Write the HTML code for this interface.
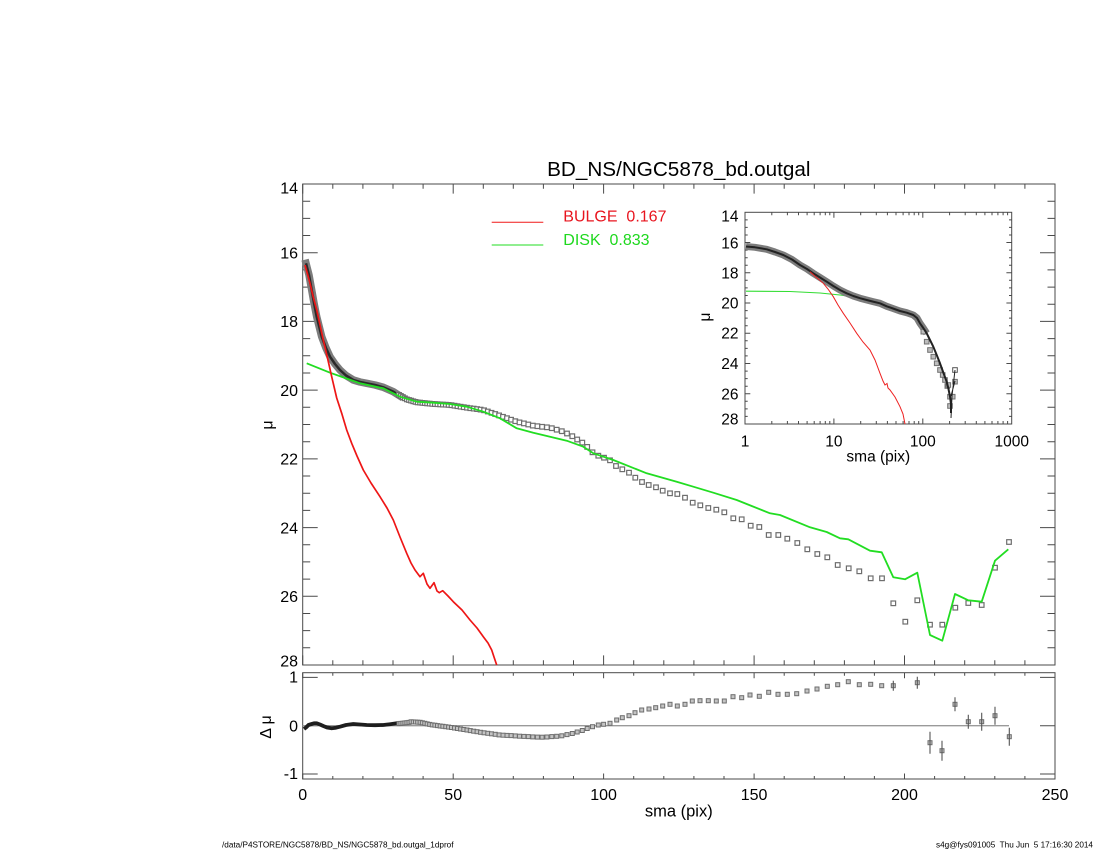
<!DOCTYPE html>
<html><head><meta charset="utf-8"><style>
html,body{margin:0;padding:0;background:#fff;}
svg{display:block;}
text{font-family:"Liberation Sans",Arial,sans-serif;}
</style></head><body>
<svg width="1100" height="850" viewBox="0 0 1100 850" xmlns="http://www.w3.org/2000/svg">
<rect width="1100" height="850" fill="#fff"/>

<!-- Title -->
<text x="678.8" y="176" font-size="20.7" text-anchor="middle">BD_NS/NGC5878_bd.outgal</text>

<!-- Main frame -->
<g stroke="#4a4a4a" stroke-width="1" fill="none">
<rect x="302.7" y="184" width="752.3" height="481"/>
<rect x="302.7" y="672.7" width="752.3" height="106.3"/>
<path d="M302.7 665V655.4M453.2 665V655.4M603.6 665V655.4M754.1 665V655.4M904.5 665V655.4M1055 665V655.4
M302.7 184V193.6M453.2 184V193.6M603.6 184V193.6M754.1 184V193.6M904.5 184V193.6M1055 184V193.6"/>
<path d="M332.8 665V660.2M362.9 665V660.2M393 665V660.2M423.1 665V660.2M483.3 665V660.2M513.3 665V660.2M543.4 665V660.2M573.5 665V660.2M633.7 665V660.2M663.8 665V660.2M693.9 665V660.2M724 665V660.2M784.2 665V660.2M814.3 665V660.2M844.4 665V660.2M874.4 665V660.2M934.6 665V660.2M964.7 665V660.2M994.8 665V660.2M1024.9 665V660.2
M332.8 184V188.8M362.9 184V188.8M393 184V188.8M423.1 184V188.8M483.3 184V188.8M513.3 184V188.8M543.4 184V188.8M573.5 184V188.8M633.7 184V188.8M663.8 184V188.8M693.9 184V188.8M724 184V188.8M784.2 184V188.8M814.3 184V188.8M844.4 184V188.8M874.4 184V188.8M934.6 184V188.8M964.7 184V188.8M994.8 184V188.8M1024.9 184V188.8"/>
<path d="M302.7 252.7H317.7M302.7 321.4H317.7M302.7 390.1H317.7M302.7 458.9H317.7M302.7 527.6H317.7M302.7 596.3H317.7
M1055 252.7H1040M1055 321.4H1040M1055 390.1H1040M1055 458.9H1040M1055 527.6H1040M1055 596.3H1040"/>
<path d="M302.7 201.2H310.2M302.7 218.4H310.2M302.7 235.5H310.2M302.7 269.9H310.2M302.7 287.1H310.2M302.7 304.2H310.2M302.7 338.6H310.2M302.7 355.8H310.2M302.7 373H310.2M302.7 407.3H310.2M302.7 424.5H310.2M302.7 441.7H310.2M302.7 476H310.2M302.7 493.2H310.2M302.7 510.4H310.2M302.7 544.7H310.2M302.7 561.9H310.2M302.7 579.1H310.2M302.7 613.5H310.2M302.7 630.6H310.2M302.7 647.8H310.2
M1055 201.2H1047.5M1055 218.4H1047.5M1055 235.5H1047.5M1055 269.9H1047.5M1055 287.1H1047.5M1055 304.2H1047.5M1055 338.6H1047.5M1055 355.8H1047.5M1055 373H1047.5M1055 407.3H1047.5M1055 424.5H1047.5M1055 441.7H1047.5M1055 476H1047.5M1055 493.2H1047.5M1055 510.4H1047.5M1055 544.7H1047.5M1055 561.9H1047.5M1055 579.1H1047.5M1055 613.5H1047.5M1055 630.6H1047.5M1055 647.8H1047.5"/>
<path d="M302.7 779V773.5M453.2 779V773.5M603.6 779V773.5M754.1 779V773.5M904.5 779V773.5M1055 779V773.5
M302.7 672.7V678.2M453.2 672.7V678.2M603.6 672.7V678.2M754.1 672.7V678.2M904.5 672.7V678.2M1055 672.7V678.2"/>
<path d="M332.8 779V776M362.9 779V776M393 779V776M423.1 779V776M483.3 779V776M513.3 779V776M543.4 779V776M573.5 779V776M633.7 779V776M663.8 779V776M693.9 779V776M724 779V776M784.2 779V776M814.3 779V776M844.4 779V776M874.4 779V776M934.6 779V776M964.7 779V776M994.8 779V776M1024.9 779V776
M332.8 672.7V675.7M362.9 672.7V675.7M393 672.7V675.7M423.1 672.7V675.7M483.3 672.7V675.7M513.3 672.7V675.7M543.4 672.7V675.7M573.5 672.7V675.7M633.7 672.7V675.7M663.8 672.7V675.7M693.9 672.7V675.7M724 672.7V675.7M784.2 672.7V675.7M814.3 672.7V675.7M844.4 672.7V675.7M874.4 672.7V675.7M934.6 672.7V675.7M964.7 672.7V675.7M994.8 672.7V675.7M1024.9 672.7V675.7"/>
<path d="M302.7 677.4H317.7M302.7 725.7H317.7M302.7 774H317.7M1055 677.4H1040M1055 725.7H1040M1055 774H1040"/>
</g>

<!-- Main tick labels -->
<g font-size="16" fill="#000" text-anchor="end">
<text x="298" y="193.5">14</text>
<text x="298" y="258.4">16</text>
<text x="298" y="327.1">18</text>
<text x="298" y="395.8">20</text>
<text x="298" y="464.6">22</text>
<text x="298" y="533.3">24</text>
<text x="298" y="602">26</text>
<text x="298" y="666.5">28</text>
<text x="298" y="682.7">1</text>
<text x="298" y="731.5">0</text>
<text x="298" y="779">-1</text>
</g>
<g font-size="16" fill="#000" text-anchor="middle">
<text x="302.7" y="800">0</text>
<text x="453.2" y="800">50</text>
<text x="603.6" y="800">100</text>
<text x="754.1" y="800">150</text>
<text x="904.5" y="800">200</text>
<text x="1055" y="800">250</text>
<text x="678.8" y="816.5" font-size="16.5">sma (pix)</text>
</g>
<text x="0" y="0" font-size="16" text-anchor="middle" transform="translate(272.5 425) rotate(-90)">μ</text>
<text x="0" y="0" font-size="16" text-anchor="middle" transform="translate(271 727) rotate(-90)">Δ μ</text>

<!-- Legend -->
<line x1="491.7" y1="222.3" x2="543.3" y2="222.3" stroke="#f01818" stroke-width="1"/>
<line x1="491.7" y1="245" x2="543.3" y2="245" stroke="#22dd22" stroke-width="1"/>
<text x="563.3" y="221.7" font-size="16" fill="#e8141e" xml:space="preserve">BULGE  0.167</text>
<text x="563.3" y="245" font-size="16" fill="#1ed81e" xml:space="preserve">DISK  0.833</text>

<!-- Main observed band -->
<path d="M306 263.3L309 275L311.7 290L314 303L316.7 316.7L321.7 336.7L326 348L330 356.7L335 364L340 370L346 375.5L353.3 380L360 382L366.7 383.3L375 385L383.3 387.3L393.3 391.7L400 396" fill="none" stroke="#7c7c7c" stroke-width="7.5" stroke-linejoin="round" stroke-linecap="square"/>
<path d="M306 263.3L309 275L311.7 290L314 303L316.7 316.7L321.7 336.7L326 348L330 356.7L335 364L340 370L346 375.5L353.3 380L360 382L366.7 383.3L375 385L383.3 387.3L393.3 391.7L400 396" fill="none" stroke="#2a2a2a" stroke-width="2.5" stroke-linejoin="round"/>

<!-- Main squares -->
<g fill="#fff" stroke="#6e6e6e" stroke-width="1.2" transform="translate(-2.3 -2.3)">
<rect x="399" y="394.9" width="4.6" height="4.6"/><rect x="400.9" y="396" width="4.6" height="4.6"/><rect x="402.9" y="397.1" width="4.6" height="4.6"/><rect x="404.9" y="398.3" width="4.6" height="4.6"/><rect x="406.9" y="399.4" width="4.6" height="4.6"/><rect x="409" y="400" width="4.6" height="4.6"/><rect x="411.1" y="400.6" width="4.6" height="4.6"/><rect x="413.3" y="401.3" width="4.6" height="4.6"/><rect x="415.5" y="401.9" width="4.6" height="4.6"/><rect x="417.7" y="402.4" width="4.6" height="4.6"/><rect x="420.1" y="402.6" width="4.6" height="4.6"/><rect x="422.4" y="402.9" width="4.6" height="4.6"/><rect x="424.8" y="403.1" width="4.6" height="4.6"/><rect x="427.2" y="403.4" width="4.6" height="4.6"/><rect x="429.7" y="403.6" width="4.6" height="4.6"/><rect x="432.3" y="403.9" width="4.6" height="4.6"/><rect x="434.9" y="404.1" width="4.6" height="4.6"/><rect x="437.5" y="404.2" width="4.6" height="4.6"/><rect x="440.2" y="404.4" width="4.6" height="4.6"/><rect x="442.9" y="404.6" width="4.6" height="4.6"/><rect x="445.8" y="404.7" width="4.6" height="4.6"/><rect x="448.6" y="404.9" width="4.6" height="4.6"/><rect x="451.5" y="405.2" width="4.6" height="4.6"/><rect x="454.5" y="405.7" width="4.6" height="4.6"/><rect x="457.5" y="406.2" width="4.6" height="4.6"/><rect x="460.6" y="406.7" width="4.6" height="4.6"/><rect x="463.8" y="407.2" width="4.6" height="4.6"/><rect x="467" y="407.7" width="4.6" height="4.6"/><rect x="470.3" y="408.2" width="4.6" height="4.6"/><rect x="473.7" y="408.6" width="4.6" height="4.6"/><rect x="477.1" y="409.1" width="4.6" height="4.6"/><rect x="480.6" y="409.6" width="4.6" height="4.6"/><rect x="484.1" y="410.3" width="4.6" height="4.6"/><rect x="487.8" y="411.5" width="4.6" height="4.6"/><rect x="491.5" y="412.8" width="4.6" height="4.6"/><rect x="495.2" y="414" width="4.6" height="4.6"/><rect x="499.1" y="415.4" width="4.6" height="4.6"/><rect x="503" y="416.8" width="4.6" height="4.6"/><rect x="507" y="418.2" width="4.6" height="4.6"/><rect x="511.1" y="419.7" width="4.6" height="4.6"/><rect x="515.3" y="421.2" width="4.6" height="4.6"/><rect x="519.5" y="422.4" width="4.6" height="4.6"/><rect x="523.9" y="423.4" width="4.6" height="4.6"/><rect x="528.3" y="424.5" width="4.6" height="4.6"/><rect x="532.8" y="425.6" width="4.6" height="4.6"/><rect x="537.4" y="426.2" width="4.6" height="4.6"/><rect x="542.1" y="426.8" width="4.6" height="4.6"/><rect x="546.9" y="427.3" width="4.6" height="4.6"/><rect x="551.8" y="428.2" width="4.6" height="4.6"/><rect x="556.7" y="429.7" width="4.6" height="4.6"/><rect x="561.8" y="431.2" width="4.6" height="4.6"/><rect x="567" y="433.5" width="4.6" height="4.6"/><rect x="572.3" y="436.2" width="4.6" height="4.6"/><rect x="577.2" y="439.5" width="4.6" height="4.6"/>
<rect x="582.3" y="442.6" width="4.6" height="4.6"/><rect x="587.2" y="446.9" width="4.6" height="4.6"/><rect x="592.5" y="452.3" width="4.6" height="4.6"/><rect x="598.3" y="455.7" width="4.6" height="4.6"/><rect x="604" y="457.7" width="4.6" height="4.6"/><rect x="610" y="460.3" width="4.6" height="4.6"/><rect x="616" y="466" width="4.6" height="4.6"/><rect x="622.3" y="469.3" width="4.6" height="4.6"/><rect x="629" y="472.7" width="4.6" height="4.6"/><rect x="635.3" y="477.7" width="4.6" height="4.6"/><rect x="642" y="482" width="4.6" height="4.6"/><rect x="648.7" y="485" width="4.6" height="4.6"/><rect x="656" y="487.3" width="4.6" height="4.6"/><rect x="662.7" y="490.7" width="4.6" height="4.6"/><rect x="670" y="493.3" width="4.6" height="4.6"/><rect x="677.3" y="494" width="4.6" height="4.6"/><rect x="685" y="497.7" width="4.6" height="4.6"/><rect x="692.7" y="502.7" width="4.6" height="4.6"/><rect x="700.3" y="505.3" width="4.6" height="4.6"/><rect x="708.3" y="508" width="4.6" height="4.6"/><rect x="716.3" y="509.7" width="4.6" height="4.6"/><rect x="724.3" y="512.3" width="4.6" height="4.6"/><rect x="733.3" y="518.3" width="4.6" height="4.6"/><rect x="741.7" y="519.3" width="4.6" height="4.6"/><rect x="750.7" y="525.7" width="4.6" height="4.6"/><rect x="759.3" y="527" width="4.6" height="4.6"/><rect x="768.7" y="535" width="4.6" height="4.6"/><rect x="778.3" y="535" width="4.6" height="4.6"/><rect x="787.3" y="538.7" width="4.6" height="4.6"/><rect x="797.3" y="543" width="4.6" height="4.6"/><rect x="807.3" y="549.3" width="4.6" height="4.6"/><rect x="817.3" y="554" width="4.6" height="4.6"/><rect x="827.3" y="557.3" width="4.6" height="4.6"/><rect x="837.7" y="565" width="4.6" height="4.6"/><rect x="848.7" y="568.3" width="4.6" height="4.6"/><rect x="859.3" y="571.3" width="4.6" height="4.6"/><rect x="870.7" y="578.3" width="4.6" height="4.6"/><rect x="882" y="578.3" width="4.6" height="4.6"/><rect x="893.3" y="603.3" width="4.6" height="4.6"/><rect x="905.3" y="621.7" width="4.6" height="4.6"/><rect x="917.3" y="600.3" width="4.6" height="4.6"/><rect x="930" y="624.7" width="4.6" height="4.6"/><rect x="942.3" y="624.7" width="4.6" height="4.6"/><rect x="955.3" y="607.7" width="4.6" height="4.6"/><rect x="968.3" y="603" width="4.6" height="4.6"/><rect x="981.7" y="605" width="4.6" height="4.6"/><rect x="995" y="567.7" width="4.6" height="4.6"/><rect x="1009" y="542" width="4.6" height="4.6"/>
</g>

<!-- Disk (green) main -->
<path d="M306.7 363.3L330 372.7L345 378L360 383.3L383.3 388.3L400 396.7L416.7 401.7L433.3 402.7L450 404L466.7 406.7L483.3 411.7L500 418.3L516.7 428.3L533.3 432.7L550 436.7L566.7 440.7L583.3 446.7L593.3 453.3L613.3 460L646.7 473.3L676.7 481.7L693.3 486.7L713.3 492.7L736.7 500L751.7 506L770 513.3L780 515L810 527.3L826.7 532L840 538.3L848.3 539.3L870 550.7L881.7 552.3L893.3 577.3L905 579.3L917.3 572.7L930 635L942.3 640.7L955 594L968.3 600.3L981.7 601.7L995 560.7L1008.3 549.3" fill="none" stroke="#22dd22" stroke-width="1.8" stroke-linejoin="round"/>

<!-- Bulge (red) main -->
<path d="M305 265L307.5 274L310 283.3L313 296L316.7 310L320 325L323.3 340L327.5 358L331.7 376.7L336.7 398L341.7 413.3L346.7 430L351.7 443.3L357 456L363.3 470L371 483L380 496.7L387 508L393.3 520L400 537L406.7 553.3L411 563L415 570L420 576.7L423.3 573.3L427 584L430 588.3L434 582.7L437 591L439.3 592.7L442.7 590.7L448 596L453.3 601.7L462 610L470 620L477 628L483.3 636.7L488 643L491.7 650L494 657L496.7 665" fill="none" stroke="#ee1616" stroke-width="1.7" stroke-linejoin="round"/>

<!-- Residual zero line -->
<line x1="302.7" y1="725.7" x2="1009" y2="725.7" stroke="#9a9a9a" stroke-width="1.3"/>
<path d="M304 729L306 727.5L308.5 725L311.7 724L314 723.3L316.7 723.3L320 724.5L323.3 726L327 727.5L331.7 728.3L336 727.7L340 726.7L346 725L353.3 724L360 724.5L366.7 725L375 725.2L383.3 725L390 724.2L396.7 723.3L400 723.4" fill="none" stroke="#1e1e1e" stroke-width="3.8" stroke-linejoin="round"/>
<g fill="#c4c4c4" stroke="#6e6e6e" stroke-width="1" transform="translate(-2 -2)">
<rect x="399" y="723.6" width="4" height="4"/><rect x="400.9" y="723.4" width="4" height="4"/><rect x="402.9" y="723.2" width="4" height="4"/><rect x="404.9" y="722.9" width="4" height="4"/><rect x="406.9" y="722.7" width="4" height="4"/><rect x="409" y="722.4" width="4" height="4"/><rect x="411.1" y="721.8" width="4" height="4"/><rect x="413.3" y="721.9" width="4" height="4"/><rect x="415.5" y="722" width="4" height="4"/><rect x="417.7" y="722.2" width="4" height="4"/><rect x="420.1" y="722.3" width="4" height="4"/><rect x="422.4" y="722.8" width="4" height="4"/><rect x="424.8" y="723.3" width="4" height="4"/><rect x="427.2" y="723.9" width="4" height="4"/><rect x="429.7" y="724.4" width="4" height="4"/><rect x="432.3" y="724.9" width="4" height="4"/><rect x="434.9" y="725.2" width="4" height="4"/><rect x="437.5" y="725.6" width="4" height="4"/><rect x="440.2" y="726" width="4" height="4"/><rect x="442.9" y="726.3" width="4" height="4"/><rect x="445.8" y="726.7" width="4" height="4"/><rect x="448.6" y="727.1" width="4" height="4"/><rect x="451.5" y="727.5" width="4" height="4"/><rect x="454.5" y="728" width="4" height="4"/><rect x="457.5" y="728.5" width="4" height="4"/><rect x="460.6" y="729" width="4" height="4"/><rect x="463.8" y="729.5" width="4" height="4"/><rect x="467" y="730" width="4" height="4"/><rect x="470.3" y="730.6" width="4" height="4"/><rect x="473.7" y="731.2" width="4" height="4"/><rect x="477.1" y="731.7" width="4" height="4"/><rect x="480.6" y="732.3" width="4" height="4"/><rect x="484.1" y="732.8" width="4" height="4"/><rect x="487.8" y="733.3" width="4" height="4"/><rect x="491.5" y="733.8" width="4" height="4"/><rect x="495.2" y="734.3" width="4" height="4"/><rect x="499.1" y="734.9" width="4" height="4"/><rect x="503" y="735.2" width="4" height="4"/><rect x="507" y="735.4" width="4" height="4"/><rect x="511.1" y="735.6" width="4" height="4"/><rect x="515.3" y="735.9" width="4" height="4"/><rect x="519.5" y="736.2" width="4" height="4"/><rect x="523.9" y="736.4" width="4" height="4"/><rect x="528.3" y="736.6" width="4" height="4"/><rect x="532.8" y="736.9" width="4" height="4"/><rect x="537.4" y="737.1" width="4" height="4"/><rect x="542.1" y="737.2" width="4" height="4"/><rect x="546.9" y="737" width="4" height="4"/><rect x="551.8" y="736.6" width="4" height="4"/><rect x="556.7" y="736.3" width="4" height="4"/><rect x="561.8" y="735.8" width="4" height="4"/><rect x="567" y="734.6" width="4" height="4"/><rect x="572.3" y="733.5" width="4" height="4"/><rect x="577.2" y="732" width="4" height="4"/>
<rect x="582.3" y="730.5" width="4" height="4"/><rect x="587.2" y="728.5" width="4" height="4"/><rect x="592.5" y="726.7" width="4" height="4"/><rect x="598.3" y="725" width="4" height="4"/>
<rect x="603.6" y="724.3" width="4" height="4"/><rect x="610" y="723.3" width="4" height="4"/><rect x="616.7" y="720" width="4" height="4"/><rect x="622.3" y="717.7" width="4" height="4"/><rect x="629" y="715.7" width="4" height="4"/><rect x="635" y="712.7" width="4" height="4"/><rect x="641.7" y="710" width="4" height="4"/><rect x="649" y="709" width="4" height="4"/><rect x="655.7" y="707.7" width="4" height="4"/><rect x="662.7" y="706" width="4" height="4"/><rect x="670" y="704.3" width="4" height="4"/><rect x="677.3" y="706" width="4" height="4"/><rect x="685" y="704.3" width="4" height="4"/><rect x="692.3" y="701" width="4" height="4"/><rect x="700" y="700.7" width="4" height="4"/><rect x="708.3" y="700.7" width="4" height="4"/><rect x="716.3" y="701" width="4" height="4"/><rect x="724.3" y="701" width="4" height="4"/><rect x="733" y="696.7" width="4" height="4"/><rect x="741.7" y="697.7" width="4" height="4"/><rect x="750" y="695" width="4" height="4"/><rect x="759.3" y="696.3" width="4" height="4"/><rect x="768.7" y="692.3" width="4" height="4"/><rect x="778" y="694.3" width="4" height="4"/><rect x="787.3" y="694.3" width="4" height="4"/><rect x="796.7" y="693.7" width="4" height="4"/><rect x="807" y="691" width="4" height="4"/><rect x="817" y="689" width="4" height="4"/><rect x="827.3" y="686.3" width="4" height="4"/><rect x="837.7" y="684.7" width="4" height="4"/><rect x="848.3" y="681.7" width="4" height="4"/><rect x="859.3" y="684.7" width="4" height="4"/><rect x="870.7" y="684.3" width="4" height="4"/><rect x="881.7" y="685.7" width="4" height="4"/><rect x="893.3" y="685.7" width="4" height="4"/><rect x="917.3" y="682.7" width="4" height="4"/><rect x="930" y="742.7" width="4" height="4"/><rect x="942" y="750.7" width="4" height="4"/><rect x="955" y="704.3" width="4" height="4"/><rect x="968.3" y="721.7" width="4" height="4"/><rect x="981.7" y="721.7" width="4" height="4"/><rect x="995" y="715.7" width="4" height="4"/><rect x="1009.3" y="736.7" width="4" height="4"/>
</g>
<path d="M893.3 680.7V690.7M917.3 676.7V688.7M930 731.7V753.7M942 740.7V760.7M955 697.3V711.3M968.3 714.7V728.7M981.7 712.7V730.7M995 706.7V724.7M1009.3 727.7V745.7" stroke="#555" stroke-width="1.1" fill="none"/>

<!-- INSET -->
<rect x="745" y="212.3" width="266.7" height="211.7" fill="#fff" stroke="none"/>
<g stroke="#4a4a4a" stroke-width="1" fill="none">
<rect x="745" y="212.3" width="266.7" height="211.7"/>
<path d="M745 242.5H750.3M745 272.8H750.3M745 303H750.3M745 333.3H750.3M745 363.5H750.3M745 393.7H750.3
M1011.7 242.5H1006.4M1011.7 272.8H1006.4M1011.7 303H1006.4M1011.7 333.3H1006.4M1011.7 363.5H1006.4M1011.7 393.7H1006.4"/>
<path d="M745 219.9H747.7M745 227.4H747.7M745 235H747.7M745 250.1H747.7M745 257.7H747.7M745 265.2H747.7M745 280.3H747.7M745 287.9H747.7M745 295.5H747.7M745 310.6H747.7M745 318.1H747.7M745 325.7H747.7M745 340.8H747.7M745 348.4H747.7M745 355.9H747.7M745 371.1H747.7M745 378.6H747.7M745 386.2H747.7M745 401.3H747.7M745 408.9H747.7M745 416.4H747.7
M1011.7 219.9H1009M1011.7 227.4H1009M1011.7 235H1009M1011.7 250.1H1009M1011.7 257.7H1009M1011.7 265.2H1009M1011.7 280.3H1009M1011.7 287.9H1009M1011.7 295.5H1009M1011.7 310.6H1009M1011.7 318.1H1009M1011.7 325.7H1009M1011.7 340.8H1009M1011.7 348.4H1009M1011.7 355.9H1009M1011.7 371.1H1009M1011.7 378.6H1009M1011.7 386.2H1009M1011.7 401.3H1009M1011.7 408.9H1009M1011.7 416.4H1009"/>
<path d="M833.9 424V418.5M922.8 424V418.5M833.9 212.3V217.8M922.8 212.3V217.8"/>
<path d="M771.8 424V421M787.4 424V421M798.5 424V421M807.1 424V421M814.2 424V421M820.1 424V421M825.3 424V421M829.8 424V421M860.7 424V421M876.3 424V421M887.4 424V421M896 424V421M903.1 424V421M909 424V421M914.2 424V421M918.7 424V421M949.6 424V421M965.2 424V421M976.3 424V421M984.9 424V421M992 424V421M997.9 424V421M1003.1 424V421M1007.6 424V421
M771.8 212.3V215.3M787.4 212.3V215.3M798.5 212.3V215.3M807.1 212.3V215.3M814.2 212.3V215.3M820.1 212.3V215.3M825.3 212.3V215.3M829.8 212.3V215.3M860.7 212.3V215.3M876.3 212.3V215.3M887.4 212.3V215.3M896 212.3V215.3M903.1 212.3V215.3M909 212.3V215.3M914.2 212.3V215.3M918.7 212.3V215.3M949.6 212.3V215.3M965.2 212.3V215.3M976.3 212.3V215.3M984.9 212.3V215.3M992 212.3V215.3M997.9 212.3V215.3M1003.1 212.3V215.3M1007.6 212.3V215.3"/>
</g>
<g font-size="15.5" fill="#000" text-anchor="end">
<text x="738.5" y="221.7">14</text>
<text x="738.5" y="248.5">16</text>
<text x="738.5" y="278.5">18</text>
<text x="738.5" y="308.5">20</text>
<text x="738.5" y="338.7">22</text>
<text x="738.5" y="369">24</text>
<text x="738.5" y="399.5">26</text>
<text x="738.5" y="424.3">28</text>
</g>
<g font-size="15.5" fill="#000" text-anchor="middle">
<text x="745" y="446.7">1</text>
<text x="833.9" y="446.7">10</text>
<text x="922.8" y="446.7">100</text>
<text x="1011.7" y="446.7">1000</text>
<text x="878.3" y="461.6">sma (pix)</text>
</g>
<text x="0" y="0" font-size="15.5" text-anchor="middle" transform="translate(710 317) rotate(-90)">μ</text>

<path d="M746 291.2L790 291.5L820 293L840 295L856.7 297.3L870 299" fill="none" stroke="#33dd33" stroke-width="1.1"/>
<path d="M746 246.5L755 247.3L766.7 249.3L775 252L783.3 255L792 259.5L800 265L807 269L813.3 273.3L820 277.5L826.7 281.7L833.3 286L840 290L846.7 293.3L853.3 296L860 298.2L866.7 300L873 301.6L880 303.3L886.7 306.3L893 308.5L900 311L906.7 312.7L913.3 315L917 318L920 323.3L923.3 328L926.7 333.3" fill="none" stroke="#7c7c7c" stroke-width="7" stroke-linejoin="round"/>
<g fill="#bdbdbd" stroke="#707070" stroke-width="1" transform="translate(-2.3 -2.3)">
<rect x="923.3" y="331.7" width="4.6" height="4.6"/><rect x="926.7" y="341.7" width="4.6" height="4.6"/><rect x="930" y="350" width="4.6" height="4.6"/><rect x="933.3" y="356.7" width="4.6" height="4.6"/><rect x="936.7" y="363.3" width="4.6" height="4.6"/><rect x="940" y="370" width="4.6" height="4.6"/><rect x="942.7" y="375" width="4.6" height="4.6"/><rect x="945" y="380" width="4.6" height="4.6"/><rect x="947.3" y="386" width="4.6" height="4.6"/><rect x="948.3" y="385" width="4.6" height="4.6"/><rect x="950" y="396.7" width="4.6" height="4.6"/><rect x="952.7" y="396.7" width="4.6" height="4.6"/><rect x="950" y="406" width="4.6" height="4.6"/><rect x="955" y="381.7" width="4.6" height="4.6"/>
</g>
<rect x="952.7" y="367.7" width="4.6" height="4.6" fill="#fff" stroke="#555" stroke-width="1"/>
<path d="M746 246.5L755 247.3L766.7 249.3L775 252L783.3 255L792 259.5L800 265L807 269L813.3 273.3L820 277.5L826.7 281.7L833.3 286L840 290L846.7 293.3L853.3 296L860 298.2L866.7 300L873 301.6L880 303.3L886.7 306.3L893 308.5L900 311L906.7 312.7L913.3 315L917 318L920 323.3L923.3 328L926.7 333.3L930 340L933.3 346.7L936.7 355L940 363.3L943.3 372.5L946.7 381.7L948.5 389L950 396.7L951 404L951 413" fill="none" stroke="#222" stroke-width="2" stroke-linejoin="round"/>
<path d="M955 370L952 396L951 418M951 396L955 381" fill="none" stroke="#222" stroke-width="1"/>
<path d="M810 271.7L816 277L823.3 283.3L828 289L833.3 296.7L838 305L843.3 313.3L850 323L856.7 333.3L863 342L870 350L875 360L880 373.3L883 381L885 385L887 383.5L888 388L890 390L895 397L900 406.7L903 414L905 424" fill="none" stroke="#ee2020" stroke-width="1"/>

<!-- Footer -->
<text x="222" y="847.5" font-size="8.2" fill="#000">/data/P4STORE/NGC5878/BD_NS/NGC5878_bd.outgal_1dprof</text>
<text x="1093" y="847.5" font-size="8.2" fill="#000" text-anchor="end" xml:space="preserve">s4g@fys091005  Thu Jun  5 17:16:30 2014</text>
</svg>
</body></html>
